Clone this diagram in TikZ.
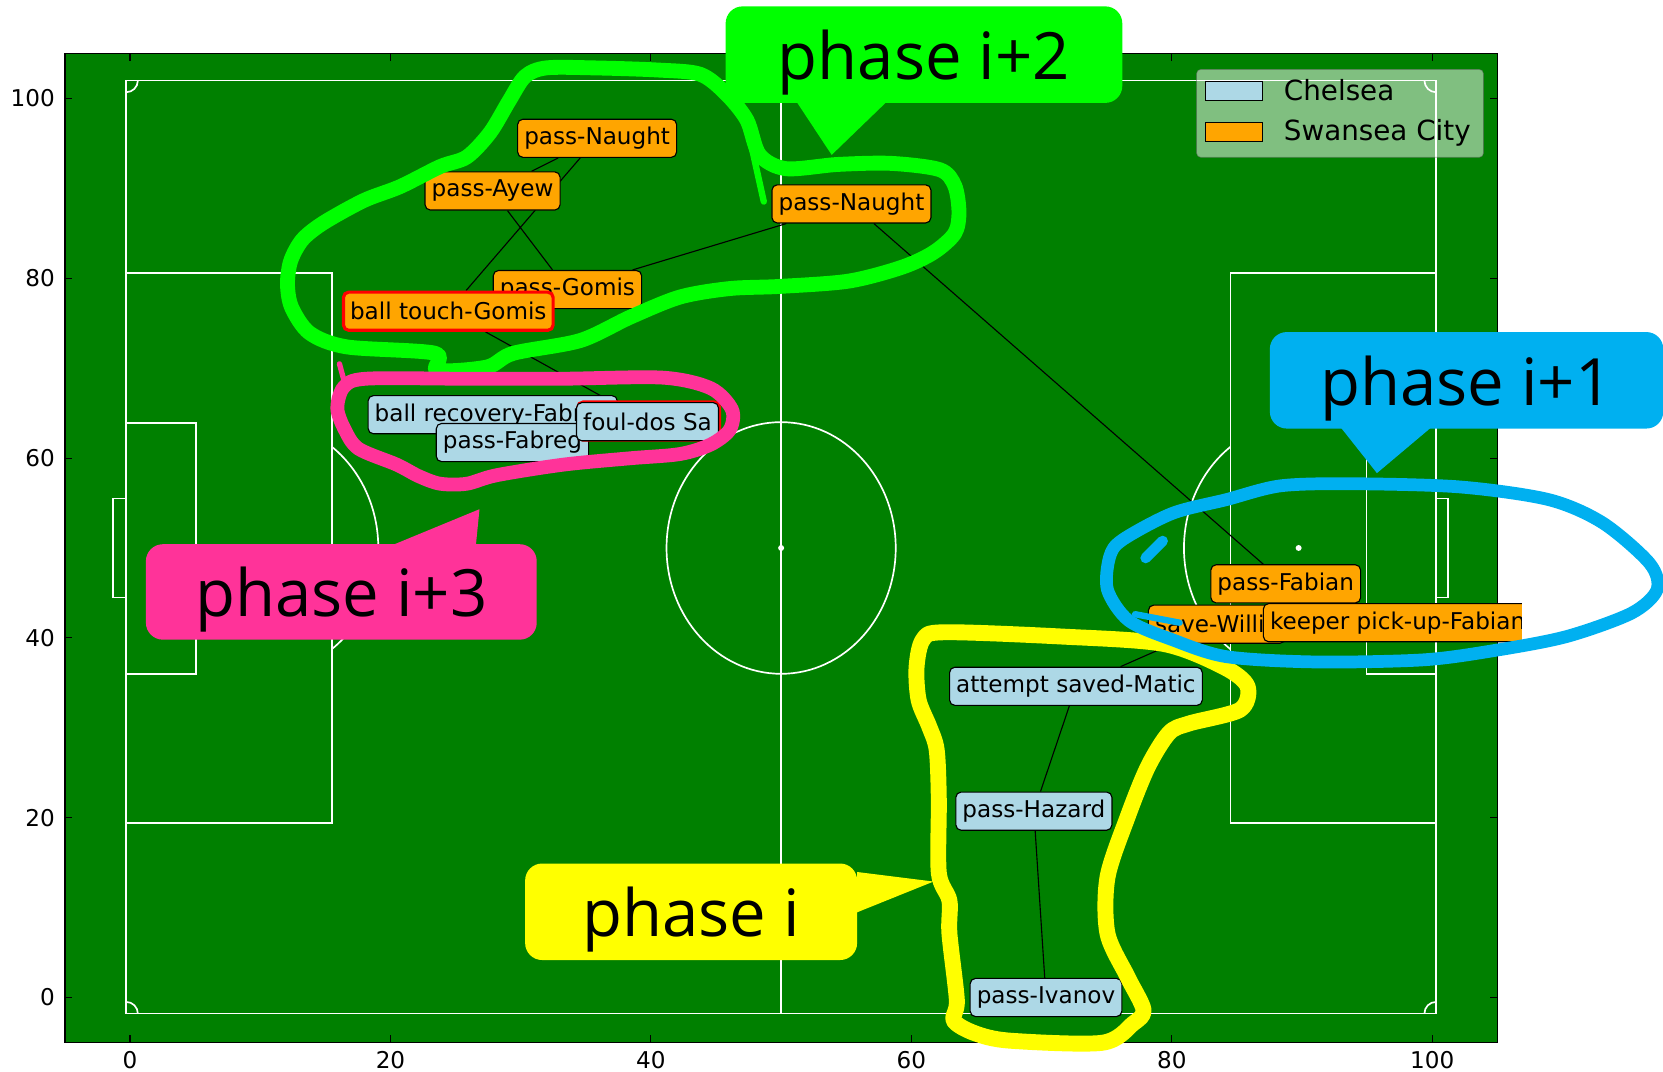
\documentclass[tikz,border=0pt]{standalone}
\usepackage{fontspec}
\setmainfont{DejaVu Sans}
\newfontfamily\notefont{Open Sans}
\usepackage{tikz}
\usetikzlibrary{backgrounds}
\definecolor{pitchgreen}{HTML}{008000}
\definecolor{swansea}{HTML}{FFA500}
\definecolor{chelsea}{HTML}{ADD8E6}
\definecolor{markgreen}{HTML}{00FF00}
\definecolor{markblue}{HTML}{00B0F0}
\definecolor{markyellow}{HTML}{FFFF00}
\definecolor{markpink}{HTML}{FF3399}
\pgfdeclarelayer{pitch}
\pgfdeclarelayer{links}
\pgfsetlayers{pitch,links,main}

\begin{document}
\begin{tikzpicture}[
        every node/.style={font=\fontsize{12.4}{14}\selectfont},
        event/.style={draw=black, line width=0.6pt, rounded corners=0.1cm, minimum height=0.72cm, inner xsep=0.125cm, inner ysep=0pt},
        swa/.style={event, fill=swansea},
        che/.style={event, fill=chelsea},
        link/.style={black, line width=0.6pt},
        chalk/.style={white, line width=0.9pt},
        ticklbl/.style={inner sep=0pt},
        legendkey/.style={draw=black, line width=0.6pt},
        legendtext/.style={inner sep=0pt, anchor=base west, font=\fontsize{14.9}{17}\selectfont},
        phasebox/.style={rounded corners=0.32cm, inner sep=0pt, text depth=0pt, minimum height=1.82cm, font=\notefont\fontsize{35}{40}\selectfont},
        scribble/.style={line width=#1, line join=round, line cap=round}
    ]
    \useasboundingbox (0,0) rectangle (31.36,-20.2);

    \begin{scope}[shift={(2.452,-18.808)}, x=0.24556cm, y=0.1695cm]
        \begin{pgfonlayer}{pitch}
            \draw[fill=pitchgreen, line width=0.8pt] (-5,-5) rectangle (105,105);
            \draw[chalk] (-0.3,-1.8) rectangle (100.3,102);
            \draw[chalk] (50,-1.8) -- (50,102);
            \draw[chalk] (50,50) ellipse [x radius=8.8, y radius=14];
            \fill[white] (50,50) circle [radius=1.6pt];
            \draw[chalk] (-0.3,19.4) rectangle (15.5,80.6);
            \draw[chalk] (100.3,19.4) rectangle (84.5,80.6);
            \draw[chalk] (-0.3,36) rectangle (5.05,63.9);
            \draw[chalk] (100.3,36) rectangle (94.95,63.9);
            \draw[chalk] (-0.3,44.5) rectangle (-1.3,55.5);
            \draw[chalk] (100.3,44.5) rectangle (101.2,55.5);
            \fill[white] (10.26,50) circle [radius=1.6pt];
            \fill[white] (89.74,50) circle [radius=1.6pt];
            \draw[chalk] (15.5,38.75) arc [start angle=-53.5, end angle=53.5, x radius=8.8, y radius=14];
            \draw[chalk] (84.5,61.25) arc [start angle=126.5, end angle=233.5, x radius=8.8, y radius=14];
            \draw[chalk] (0.6,-1.8) arc [start angle=0, end angle=90, x radius=0.9, y radius=1.3];
            \draw[chalk] (-0.3,100.7) arc [start angle=-90, end angle=0, x radius=0.9, y radius=1.3];
            \draw[chalk] (99.4,102) arc [start angle=180, end angle=270, x radius=0.9, y radius=1.3];
            \draw[chalk] (100.3,-0.5) arc [start angle=90, end angle=180, x radius=0.9, y radius=1.3];
            \foreach \v in {0,20,...,100} {
                \draw[line width=0.6pt] (\v,-5) -- ++(0pt,0.13cm) (\v,105) -- ++(0pt,-0.13cm);
                \draw[line width=0.6pt] (-5,\v) -- ++(0.13cm,0pt) (105,\v) -- ++(-0.13cm,0pt);
                \node[ticklbl] (xt\v) at (\v,-6.97) {\v};
                \node[ticklbl, anchor=east] (yt\v) at (-5.75,\v) {\v};
            }
        \end{pgfonlayer}

        \node[swa] (naughtone) at (35.87,95.58) {pass-Naught};
        \node[swa] (ayew) at (27.84,89.72) {pass-Ayew};
        \node[swa] (naughttwo) at (55.40,88.28) {pass-Naught};
        \node[swa] (gomis) at (33.59,78.75) {pass-Gomis};
        \node[swa, draw=red, line width=1.7pt] (touch) at (24.44,76.34) {ball touch-Gomis};
        \node[che] (recovery) at (27.85,64.83) {ball recovery-Fabreg};
        \node[che] (fabreg) at (29.37,61.73) {pass-Fabreg};
        \node[che, draw=red, line width=1.6pt] (foulback) at (39.83,64.12) {\phantom{foul-dos Sa}};
        \node[che] (foul) at (39.74,64.05) {foul-dos Sa};
        \node[swa] (fabian) at (88.75,46.01) {pass-Fabian};
        \node[swa] (save) at (83.46,41.52) {save-Willia};
        \begin{scope}
            \clip (-10,-10) rectangle (106.89,111);
            \node[swa] (keeper) at (97.34,41.69) {keeper pick-up-Fabian};
        \end{scope}
        \node[che] (matic) at (72.64,34.61) {attempt saved-Matic};
        \node[che] (hazard) at (69.41,20.72) {pass-Hazard};
        \node[che] (ivanov) at (70.34,-0.01) {pass-Ivanov};

        \begin{pgfonlayer}{links}
            \draw[link] (ivanov) -- (hazard) -- (matic) -- (save);
            \draw[link] (fabian) -- (naughttwo) -- (gomis) -- (ayew) -- (naughtone) -- (touch) -- (foul);
        \end{pgfonlayer}
    \end{scope}

    \begin{scope}[x=0.02cm, y=-0.02cm]
        \draw[rounded corners=0.08cm, fill=white, fill opacity=0.5, draw=black!60, draw opacity=0.5] (1128,65.4) rectangle (1398.4,148.3);
        \draw[legendkey, fill=chelsea] (1136,77) rectangle (1190,94.5);
        \draw[legendkey, fill=swansea] (1136,115.5) rectangle (1190,133.5);
        \node[legendtext] (chelsealbl) at (1210,94.3) {Chelsea};
        \node[legendtext] (swansealbl) at (1210,132) {Swansea City};

        \draw[scribble=0.3cm, markyellow] plot[smooth cycle, tension=0.5] coordinates {(870,603) (890,596) (1000,600) (1097,607) (1154,629) (1176,647) (1169,669) (1121,682) (1102,691) (1082,723) (1063,770) (1044,827) (1044,880) (1063,921) (1078,952) (1068,965) (1039,983) (952,981) (919,974) (899,962) (902,943) (895,880) (895,849) (885,823) (885,754) (883,707) (876,685) (866,660) (864,629)};
        \fill[markyellow] (808,822) -- (880,831) -- (808,860) -- cycle;
        \node[phasebox, fill=markyellow, minimum width=6.26cm] (phasezero) at (651.5,859.5) {phase i};

        \draw[scribble=0.28cm, markgreen] plot[smooth cycle, tension=0.5] coordinates {(515,64) (560,64) (620,66) (660,70) (684,88) (704,113) (716,146) (741,159) (790,155) (840,154) (886,160) (900,175) (904,200) (900,220) (880,238) (850,252) (800,265) (735,270) (688,272) (641,280) (594,299) (547,321) (484,333) (459,346) (412,349) (410,333) (327,327) (292,314) (275,290) (271,268) (274,246) (285,226) (305,210) (343,189) (377,176) (415,157) (440,148) (462,125) (480,95) (495,72)};
        \draw[scribble=0.12cm, markgreen] (700,100) -- (720,190);
        \fill[markgreen] (747,90) -- (784,146) -- (842,90) -- cycle;
        \node[phasebox, fill=markgreen, minimum width=7.48cm] (phasetwo) at (871,51.5) {phase i+2};

        \draw[scribble=0.26cm, markpink] plot[smooth cycle, tension=0.5] coordinates {(324,365) (345,357) (437,357) (531,357) (625,356) (670,366) (690,386) (688,405) (670,419) (641,428) (594,432) (531,438) (468,448) (440,456) (415,456) (395,449) (374,438) (338,423) (325,405) (318,385)};
        \draw[scribble=0.1cm, markpink] (320,343) -- (326,365);
        \fill[markpink] (355,520) -- (452,480) -- (448,520) -- cycle;
        \node[phasebox, fill=markpink, minimum width=7.37cm, minimum height=1.8cm] (phasethree) at (321.75,558) {phase i+3};

        \fill[markblue] (1260,398) -- (1298,446) -- (1355,398) -- cycle;
        \node[phasebox, fill=markblue, minimum width=7.42cm] (phaseone) at (1382.5,358.5) {phase i+1};
        \draw[scribble=0.24cm, markblue] plot[smooth cycle, tension=0.5] coordinates {(1058,509) (1105,484) (1156,471) (1207,458) (1274,456) (1376,459) (1460,471) (1511,493) (1555,531) (1562,556) (1538,578) (1477,600) (1410,613) (1342,622) (1240,624) (1156,619) (1105,603) (1064,585) (1044,556) (1046,525)};
        \draw[scribble=0.2cm, markblue] (1080,526) -- (1096,510);
        \draw[scribble=0.12cm, markblue] (1070,579) -- (1112,587);
    \end{scope}
\end{tikzpicture}
\end{document}
